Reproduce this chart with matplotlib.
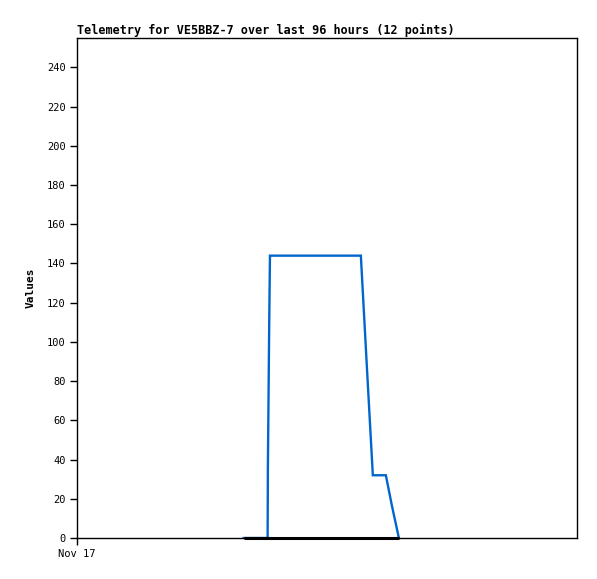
import matplotlib
matplotlib.use('Agg')
import matplotlib.pyplot as plt

# 数据 (小时, 从 Nov 17 00:00 起)
blue_hours = [32.0, 36.6, 36.65, 36.9, 37.05, 45.0, 54.5, 55.6, 56.8, 59.3, 60.5, 61.8]
blue_values = [0, 0, 36, 108, 144, 144, 144, 90, 32, 32, 16, 0]
black_hours = [32.0, 61.8]
black_values = [0, 0]

y_ticks = [0, 20, 40, 60, 80, 100, 120, 140, 160, 180, 200, 220, 240]
x_tick_labels = ['Nov 17']

plt.rcParams['font.family'] = ['DejaVu Sans Mono']

fig = plt.figure(figsize=(5.97, 5.79), dpi=100)
ax = fig.add_axes([77 / 597, 1 - 538 / 579, 500 / 597, 500 / 579])

ax.plot(blue_hours, blue_values, color='#0066cc', linewidth=1.7, solid_joinstyle='miter')
ax.plot(black_hours, black_values, color='black', linewidth=2.2, zorder=3,
        clip_on=False, solid_capstyle='butt')

ax.set_xlim(0, 96)
ax.set_ylim(0, 255)
ax.set_yticks(y_ticks)
ax.set_xticks([0])
ax.set_xticklabels(x_tick_labels)
ax.tick_params(axis='both', direction='out', length=5, width=1, labelsize=7.5, pad=3)
for s in ax.spines.values():
    s.set_linewidth(1)

ax.set_ylabel('Values', fontsize=8, fontweight='bold', labelpad=8)
ax.set_title('Telemetry for VE5BBZ-7 over last 96 hours (12 points)',
             loc='left', fontsize=8.45, fontweight='bold', pad=3)

fig.savefig('out.png', dpi=100)
